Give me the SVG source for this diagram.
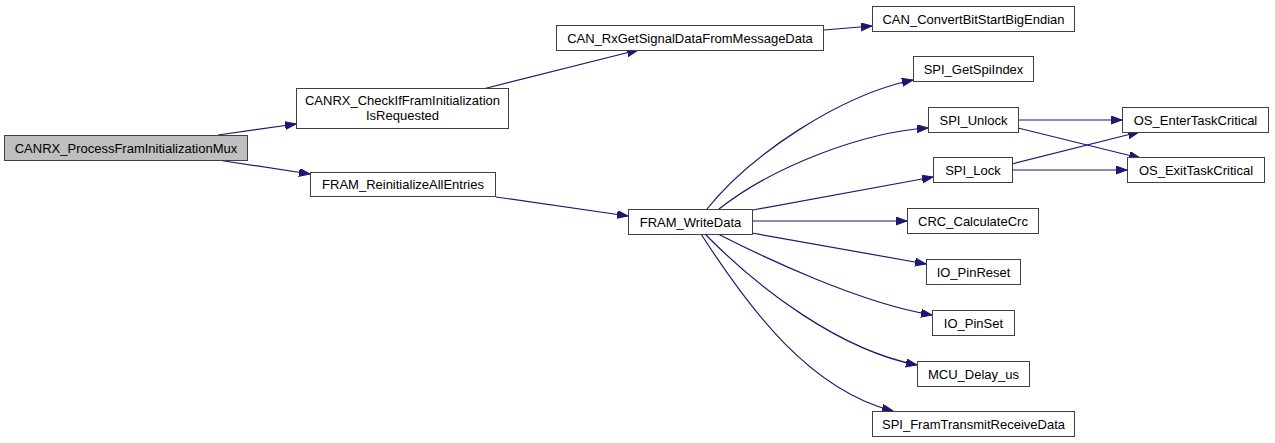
<svg xmlns="http://www.w3.org/2000/svg" width="1275" height="443" viewBox="0 0 1275 443">
<style>
.n rect{fill:#ffffff;stroke:#404040;stroke-width:1}
.n.root rect{fill:#bfbfbf}
.n text{font-family:"Liberation Sans",Arial,sans-serif;font-size:13px;fill:#000;text-anchor:middle}
.e path,.e line{fill:none;stroke:#191970;stroke-width:1.2}
</style>
<defs>
<marker id="ah" markerUnits="userSpaceOnUse" markerWidth="12" markerHeight="9" refX="11" refY="4" orient="auto">
<path d="M0,0 L11,4 L0,8 z" fill="#191970" stroke="#191970" stroke-width="1"/>
</marker>
</defs>
<rect width="1275" height="443" fill="#ffffff"/>
<g id="connectors" class="e">
<line x1="218" y1="135" x2="296" y2="124" marker-end="url(#ah)"/>
<line x1="218" y1="160" x2="310" y2="174" marker-end="url(#ah)"/>
<line x1="483" y1="89" x2="638" y2="50" marker-end="url(#ah)"/>
<line x1="496" y1="197" x2="628" y2="216" marker-end="url(#ah)"/>
<line x1="824" y1="30" x2="872" y2="26" marker-end="url(#ah)"/>
<path d="M707,209 C750,155 840,95 913,80" marker-end="url(#ah)"/>
<path d="M719,209 C775,165 865,132 928,128" marker-end="url(#ah)"/>
<line x1="753" y1="210" x2="933" y2="177" marker-end="url(#ah)"/>
<line x1="752" y1="221" x2="907" y2="221" marker-end="url(#ah)"/>
<line x1="752" y1="233" x2="926" y2="264" marker-end="url(#ah)"/>
<path d="M718,234 C765,258 860,303 932,315" marker-end="url(#ah)"/>
<path d="M705,234 C760,290 840,350 917,365" marker-end="url(#ah)"/>
<path d="M701,234 C750,310 810,390 893,411" marker-end="url(#ah)"/>
<line x1="1018" y1="120" x2="1122" y2="120" marker-end="url(#ah)"/>
<line x1="1018" y1="128" x2="1140" y2="158" marker-end="url(#ah)"/>
<line x1="1012" y1="164" x2="1139" y2="132" marker-end="url(#ah)"/>
<line x1="1012" y1="170" x2="1127" y2="170" marker-end="url(#ah)"/>
</g>
<g id="n1" class="n root"><rect x="4.5" y="135.5" width="243" height="25"/><text x="126" y="152.5">CANRX_ProcessFramInitializationMux</text></g>
<g id="n2" class="n"><rect x="296.5" y="88.5" width="212" height="40"/><text x="402.5" y="104.5">CANRX_CheckIfFramInitialization</text><text x="402.5" y="119.5">IsRequested</text></g>
<g id="n3" class="n"><rect x="310.5" y="172.5" width="185" height="24"/><text x="403" y="189">FRAM_ReinitializeAllEntries</text></g>
<g id="n4" class="n"><rect x="556.5" y="25.5" width="267" height="25"/><text x="690" y="42.5">CAN_RxGetSignalDataFromMessageData</text></g>
<g id="n5" class="n"><rect x="872.5" y="6.5" width="202" height="25"/><text x="973.5" y="23.5">CAN_ConvertBitStartBigEndian</text></g>
<g id="n6" class="n"><rect x="628.5" y="209.5" width="124" height="25"/><text x="690.5" y="226.5">FRAM_WriteData</text></g>
<g id="n7" class="n"><rect x="913.5" y="56.5" width="120" height="25"/><text x="973.5" y="73.5">SPI_GetSpiIndex</text></g>
<g id="n8" class="n"><rect x="928.5" y="107.5" width="90" height="25"/><text x="973.5" y="124.5">SPI_Unlock</text></g>
<g id="n9" class="n"><rect x="933.5" y="157.5" width="79" height="25"/><text x="973" y="174.5">SPI_Lock</text></g>
<g id="n10" class="n"><rect x="1122.5" y="107.5" width="146" height="25"/><text x="1195.5" y="124.5">OS_EnterTaskCritical</text></g>
<g id="n11" class="n"><rect x="1127.5" y="157.5" width="137" height="25"/><text x="1196" y="174.5">OS_ExitTaskCritical</text></g>
<g id="n12" class="n"><rect x="907.5" y="208.5" width="131" height="25"/><text x="973" y="225.5">CRC_CalculateCrc</text></g>
<g id="n13" class="n"><rect x="926.5" y="259.5" width="94" height="25"/><text x="973.5" y="276.5">IO_PinReset</text></g>
<g id="n14" class="n"><rect x="932.5" y="310.5" width="82" height="25"/><text x="973.5" y="327.5">IO_PinSet</text></g>
<g id="n15" class="n"><rect x="917.5" y="361.5" width="112" height="25"/><text x="973.5" y="378.5">MCU_Delay_us</text></g>
<g id="n16" class="n"><rect x="872.5" y="411.5" width="202" height="25"/><text x="973.5" y="428.5">SPI_FramTransmitReceiveData</text></g>
</svg>
